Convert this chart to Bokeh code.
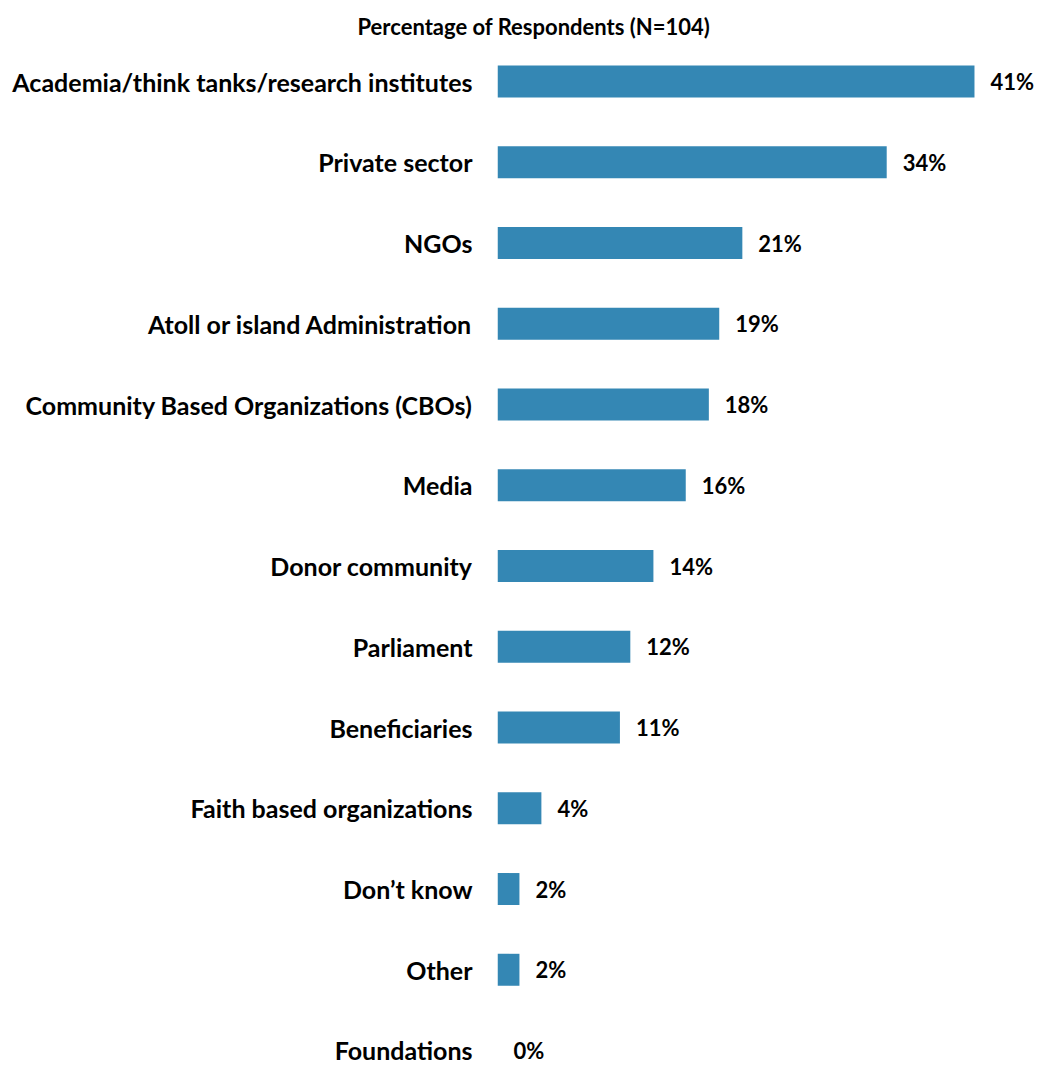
from bokeh.plotting import figure
from bokeh.models import Range1d, FixedTicker, ColumnDataSource
from bokeh.core.properties import value
from bokeh.embed import file_html
from bokeh.resources import INLINE

categories = ["Academia/think tanks/research institutes", "Private sector", "NGOs",
              "Atoll or island Administration", "Community Based Organizations (CBOs)",
              "Media", "Donor community", "Parliament", "Beneficiaries",
              "Faith based organizations", "Don\u2019t know", "Other", "Foundations"]
percent = [41.3, 33.7, 21.2, 19.2, 18.3, 16.3, 13.5, 11.5, 10.6, 3.8, 1.9, 1.9, 0.0]
percent_labels = ["41%", "34%", "21%", "19%", "18%", "16%", "14%", "12%", "11%", "4%", "2%", "2%", "0%"]
title_text = "Percentage of Respondents (N=104)"

n = len(categories)
pos = [n - 1 - i for i in range(n)]
src = ColumnDataSource(dict(cat=categories, v=percent, lab=percent_labels, y=pos))

FONT = "Lato"
p = figure(width=1036, height=1064, output_backend="svg", toolbar_location=None,
           x_range=Range1d(0, 46.67), y_range=Range1d(-0.173, 12.508),
           min_border_left=497, min_border_right=0, min_border_bottom=0, min_border_top=40)
p.title.text = title_text
p.title.text_font = FONT
p.title.text_font_size = "22px"
p.title.text_font_style = "bold"
p.title.align = "left"
p.title.offset = -140
p.title.standoff = 2
p.title.text_color = "#000000"

p.hbar(y="y", right="v", left=0, height=0.396, source=src, color="#3487B4", line_color=None)
p.text(x="v", y="y", text="lab", source=src, x_offset=16, text_align="left",
       text_baseline="middle", text_font=value(FONT), text_font_size="22px",
       text_font_style="bold", text_color="#000000")

p.xaxis.visible = False
p.yaxis.ticker = FixedTicker(ticks=pos)
p.yaxis.major_label_overrides = {y: c for y, c in zip(pos, categories)}
p.yaxis.major_label_text_font = FONT
p.yaxis.major_label_text_font_size = "25px"
p.yaxis.major_label_text_font_style = "bold"
p.yaxis.major_label_text_color = "#000000"
p.yaxis.axis_line_color = None
p.yaxis.major_tick_line_color = None
p.yaxis.minor_tick_line_color = None
p.yaxis.major_label_standoff = 19
p.xgrid.visible = False
p.ygrid.visible = False
p.outline_line_color = None

open("out.html", "w").write(file_html(p, INLINE))
